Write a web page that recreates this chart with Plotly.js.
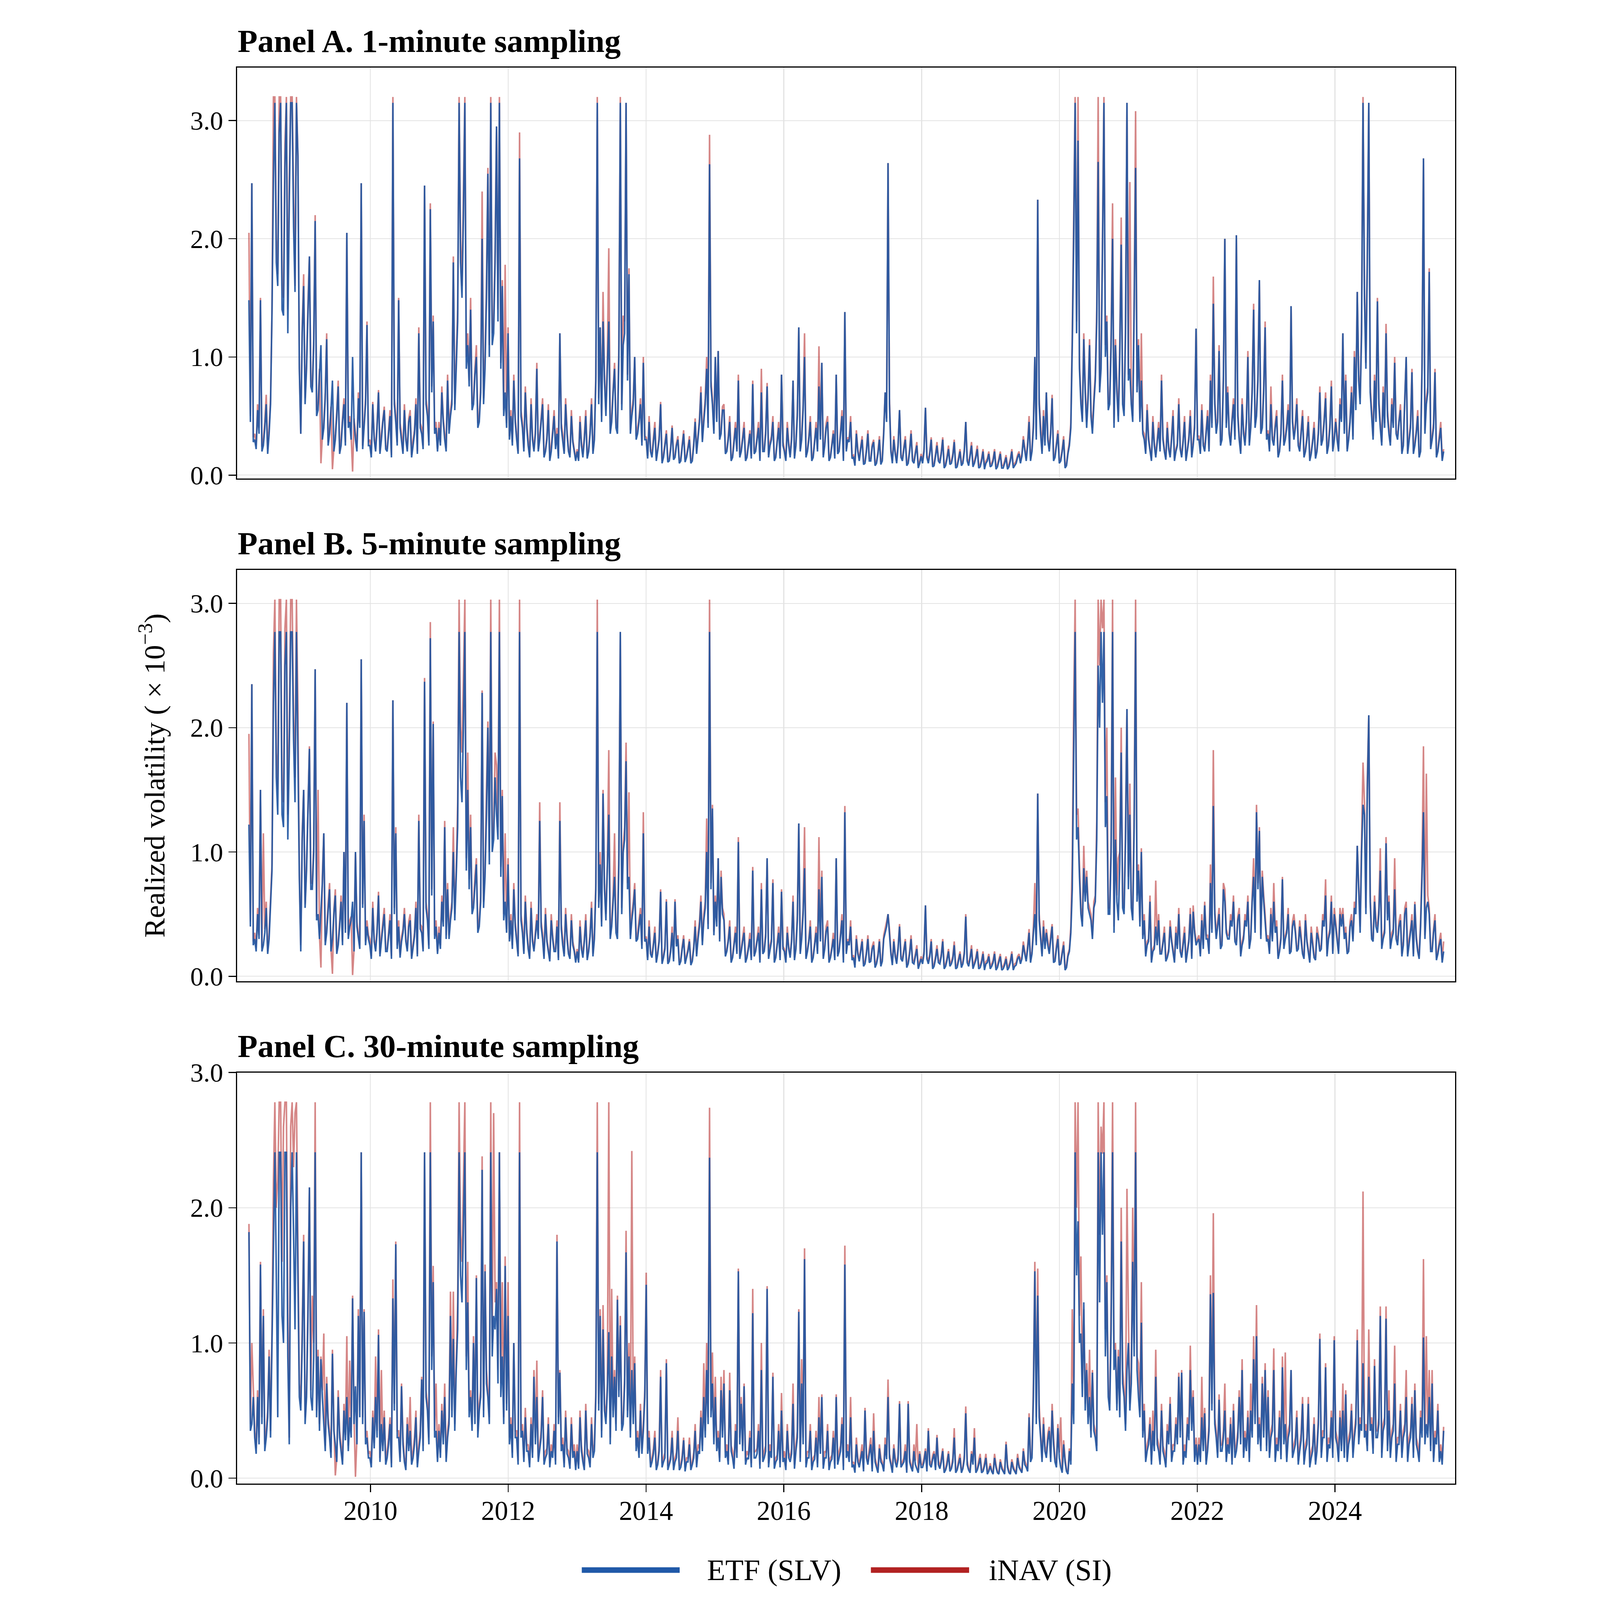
<!DOCTYPE html>
<html>
<head>
<meta charset="utf-8">
<script src="https://cdn.plot.ly/plotly-3.0.1.min.js"></script>
<style>
  html, body { margin: 0; background: #fff; overflow: hidden; }
  #chart { width: 4200px; height: 4920px; transform-origin: 0 0; }
</style>
</head>
<body>
<div id="chart"></div>
<script>
// Realized volatility of SLV vs its iNAV.
// Values are in hundredths of the axis unit (x 10^-5), about one point a week,
// first point 2008-03-28; one row per calendar year.

var start_date = '2008-03-28';
var step_ms = 7.63 * 86400000;

// Panel A, 1-minute sampling
var etf_1min = [
  148,45,247,28,30,22,55,35,148,20,25,40,60,18,35,60,137,250,315,180,160,290,315,140,135,260,315,120,230,315,315,210,155,315,270,90,
  35,120,160,60,90,140,185,75,70,110,215,50,55,85,110,30,40,65,115,25,35,55,80,20,30,50,75,18,25,45,60,25,205,40,45,30,100,45,30,20,65,40,247,22,40,60,127,25,
  25,15,60,30,20,40,70,18,30,45,55,22,20,35,50,15,315,60,45,25,148,40,30,18,55,30,20,45,50,15,25,35,60,18,120,40,35,22,245,60,50,25,225,70,130,35,40,20,
  40,25,70,45,30,20,80,35,50,60,180,55,90,130,315,180,150,220,315,90,110,75,140,55,60,85,100,40,45,70,200,60,90,150,255,100,315,110,120,180,295,130,315,90,160,50,70,40,
  120,30,50,25,80,45,30,18,268,50,40,20,70,40,25,15,60,30,20,35,90,20,30,45,60,15,20,30,55,12,20,35,50,22,35,14,120,40,30,18,60,35,20,15,50,28,20,12,
  20,12,45,25,15,30,50,14,20,35,60,18,30,80,315,60,125,45,130,80,50,95,130,35,45,70,90,40,35,100,315,55,110,120,315,80,170,35,50,60,100,30,35,45,60,25,95,30,
  30,14,45,20,15,28,40,12,20,30,60,10,15,25,35,11,12,22,40,13,15,25,30,10,12,24,35,11,15,22,30,10,12,25,45,18,30,45,70,28,45,60,90,40,263,75,60,35,
  100,45,105,30,35,55,55,18,20,30,45,12,15,28,40,20,80,15,20,30,40,12,15,25,35,14,77,18,20,30,40,12,70,20,20,35,75,15,25,30,45,12,15,28,40,14,85,25,
  20,12,40,25,15,30,80,14,25,50,125,20,30,55,100,15,20,30,45,12,15,28,40,20,75,30,95,15,25,40,45,12,15,25,35,14,85,18,20,35,50,12,138,20,30,28,45,14,
  15,8,35,20,12,22,30,9,10,20,35,12,12,24,28,8,10,18,30,9,12,35,70,45,264,60,20,10,30,18,10,25,55,15,12,22,30,8,10,20,35,12,10,18,25,6,10,16,
  10,20,57,15,10,18,30,7,8,16,25,12,10,18,30,6,8,14,22,9,10,16,28,6,7,13,20,8,10,20,45,12,8,16,25,7,10,15,22,6,7,12,20,5,10,12,18,7,
  8,12,20,5,7,12,18,6,6,10,15,5,7,12,20,6,8,10,15,18,10,16,30,20,12,25,45,12,20,40,100,30,233,60,35,18,50,25,70,30,20,35,65,12,15,25,35,10,
  12,20,30,6,8,18,25,40,110,200,315,120,283,90,60,45,115,70,40,65,110,50,35,60,80,130,265,70,90,190,315,100,130,55,60,110,200,40,110,70,45,100,195,60,50,120,315,80,
  90,60,45,140,260,70,110,45,80,35,30,18,55,30,20,12,45,25,15,28,40,20,80,30,20,13,40,22,15,30,50,12,20,25,60,22,15,28,45,12,20,30,50,15,25,40,124,30,
  30,18,55,25,20,35,50,20,80,40,145,60,35,45,105,25,30,80,200,40,70,35,25,45,60,30,203,50,30,18,60,35,25,45,100,25,40,70,140,40,50,80,165,35,40,70,125,30,
  35,20,60,30,25,40,50,15,20,35,80,25,30,40,55,20,143,45,30,40,60,25,20,35,50,15,20,30,45,12,18,28,40,14,20,35,70,25,30,45,65,18,25,40,75,20,30,45,
  30,20,60,45,120,35,80,20,30,45,70,30,100,55,155,80,60,120,315,150,90,180,315,70,50,30,80,45,147,60,40,25,70,40,120,50,35,25,60,40,95,35,30,45,55,18,25,60,
  100,18,30,40,87,18,25,35,50,15,20,90,268,35,60,70,172,22,30,40,87,15,20,30,40,12,20
];
var inav_1min = [
  205,50,247,32,35,25,60,40,150,24,30,45,68,22,40,65,140,320,320,200,170,320,320,160,150,280,320,140,250,320,320,230,160,320,270,95,
  35,125,170,65,95,145,185,80,75,115,220,55,60,90,10,33,45,70,120,28,40,58,5,23,35,54,80,20,30,48,65,28,205,44,50,33,3,48,35,23,70,44,247,25,45,65,130,28,
  30,18,62,33,22,44,72,20,35,48,58,25,22,38,55,17,320,65,50,28,150,44,35,20,60,33,22,48,55,17,30,38,65,20,125,44,40,25,245,65,55,28,230,75,135,38,45,22,
  45,28,75,48,35,23,85,38,55,65,185,60,100,140,320,200,160,240,320,100,120,80,150,60,65,90,110,44,50,75,240,65,100,160,260,110,320,120,130,190,295,140,320,95,165,55,178,44,
  125,33,55,28,85,48,35,20,290,55,45,23,75,44,30,17,65,33,22,38,95,22,35,48,65,17,22,33,60,14,25,38,55,25,40,16,120,44,35,20,65,38,22,17,55,30,22,14,
  22,14,50,28,18,33,55,16,22,38,65,20,35,85,320,65,125,50,155,85,55,100,192,38,50,75,95,44,40,110,320,60,135,130,315,85,175,38,55,65,100,33,40,48,65,28,100,33,
  32,16,50,22,18,30,45,14,22,33,62,12,18,27,38,13,14,24,42,15,17,27,33,12,14,26,38,13,17,24,33,12,14,27,48,20,35,48,75,30,50,65,100,44,288,80,65,38,
  100,48,105,33,38,58,60,20,22,33,50,14,17,30,45,22,85,17,22,33,45,14,17,27,38,16,80,20,22,33,45,14,90,22,22,38,78,17,28,33,50,14,17,30,45,16,85,28,
  22,14,45,28,17,33,80,16,28,55,125,22,35,60,120,17,22,33,50,14,17,30,45,22,109,33,95,17,28,44,50,14,17,27,38,16,85,20,22,38,55,14,138,22,32,30,50,16,
  17,10,38,22,14,24,33,11,12,22,38,14,14,26,30,10,12,20,33,11,14,38,70,48,264,65,22,12,33,20,12,27,55,17,14,24,33,10,12,22,38,14,12,20,28,8,12,18,
  12,22,57,17,12,20,32,9,10,18,28,14,12,20,32,8,10,16,25,11,12,18,30,8,9,15,22,10,12,22,45,14,10,18,28,9,12,17,25,8,9,14,22,7,12,14,20,9,
  10,14,22,7,9,14,20,8,8,12,17,7,9,14,22,8,10,12,17,20,12,18,33,22,14,28,50,14,22,44,100,33,233,65,40,20,55,28,70,33,22,38,68,14,17,28,38,12,
  14,22,33,8,10,20,28,44,120,220,320,130,320,95,65,48,120,75,45,70,115,55,40,65,85,140,320,75,100,200,320,110,135,60,65,120,230,44,115,75,50,110,218,65,55,130,315,85,
  248,65,50,150,308,75,115,48,120,38,35,20,60,33,22,14,50,28,17,30,45,22,85,33,22,15,45,24,17,33,55,14,22,27,65,24,17,30,50,14,22,33,55,17,28,44,124,33,
  33,20,60,28,22,38,55,22,85,44,168,65,40,48,110,28,33,85,200,44,75,38,28,48,65,33,203,55,33,20,65,38,28,48,105,28,45,75,145,44,55,85,165,38,45,75,130,33,
  38,22,75,33,28,44,55,17,22,38,85,28,33,44,60,22,143,48,33,44,65,28,22,38,55,17,22,33,50,14,20,30,45,16,22,38,75,28,33,48,70,20,28,44,80,22,33,48,
  33,22,65,48,120,38,85,22,33,48,75,33,105,60,155,85,65,130,320,160,95,190,315,75,55,33,85,48,150,65,45,28,75,44,128,55,40,28,65,44,100,38,33,48,60,20,28,65,
  100,20,33,44,90,20,28,38,55,17,22,95,268,38,65,75,175,24,33,44,90,17,22,33,45,14,22
];

// Panel B, 5-minute sampling
var etf_5min = [
  122,40,235,25,30,20,50,30,150,20,25,35,55,18,30,55,85,220,277,160,130,277,277,130,120,250,277,110,180,277,277,190,140,277,190,80,
  20,110,150,55,85,130,183,70,70,100,247,45,50,30,55,75,115,25,35,55,70,20,30,50,65,18,25,40,60,25,100,35,220,30,40,45,60,20,100,40,30,22,255,55,125,25,40,30,
  25,14,55,28,20,35,65,16,28,40,50,20,20,32,45,14,222,50,115,22,40,15,28,35,50,28,20,40,45,14,22,32,55,16,125,38,35,20,237,55,45,22,272,65,203,30,40,18,
  35,22,60,40,120,30,70,30,45,55,100,45,80,120,277,160,140,200,277,85,150,70,120,50,55,75,90,35,40,60,228,55,80,130,200,90,277,100,110,160,130,110,277,80,145,45,60,35,
  90,28,45,22,70,40,28,16,277,45,35,18,60,35,22,14,55,28,20,32,45,30,125,40,30,14,50,28,20,12,45,30,20,20,40,13,125,38,25,16,50,30,18,14,45,25,20,11,
  20,11,40,22,15,28,45,13,20,32,55,16,30,70,277,55,90,40,147,70,45,85,130,30,40,60,80,35,30,90,277,50,100,110,173,70,80,30,45,55,70,28,30,40,50,22,115,28,
  30,13,40,18,15,25,35,11,18,28,68,10,15,22,60,10,12,20,35,12,60,24,30,9,12,22,30,10,15,20,28,9,12,22,40,16,30,40,60,25,45,55,100,38,277,70,135,33,
  60,40,95,28,80,50,45,16,20,28,40,11,15,25,35,18,108,14,20,28,35,11,15,22,30,13,85,16,20,28,35,11,70,18,20,32,95,14,22,28,75,11,15,25,35,13,68,22,
  20,11,35,22,15,28,60,13,22,45,123,18,30,50,87,14,20,28,40,11,15,25,35,18,70,28,80,14,22,36,40,11,15,22,30,13,95,16,20,32,45,11,132,18,28,25,40,13,
  15,7,30,18,12,20,28,8,10,18,30,11,12,22,25,7,10,16,28,8,12,30,35,40,50,35,18,9,28,16,10,22,40,14,12,20,28,7,10,18,30,11,10,16,22,6,10,14,
  10,18,57,14,10,16,28,6,8,14,22,11,10,16,28,6,8,13,20,8,10,14,25,6,7,12,18,7,10,18,48,11,8,14,22,6,10,13,20,6,7,11,18,5,10,11,16,6,
  8,11,18,5,7,11,16,5,6,9,14,5,7,11,18,5,8,9,14,16,10,14,25,18,12,22,35,11,18,35,50,25,147,45,30,16,40,22,35,25,18,30,40,11,12,22,30,9,
  10,18,25,5,7,16,20,35,70,180,277,110,120,80,50,40,87,60,80,55,50,45,30,55,60,110,250,200,277,220,277,120,145,50,50,100,277,35,110,60,45,90,180,55,50,110,215,70,
  130,55,45,120,277,60,85,40,100,30,45,16,25,28,60,11,20,22,40,25,45,18,18,26,35,12,15,20,40,28,20,11,35,22,50,20,15,25,35,11,20,28,50,14,52,35,25,28,
  30,16,45,22,57,30,30,18,75,35,137,50,30,40,50,22,25,70,60,35,30,30,45,40,60,28,25,45,50,16,25,30,45,40,60,22,30,60,80,35,132,70,117,30,80,60,45,28,
  30,18,50,28,60,35,40,14,20,30,78,22,30,35,50,18,20,40,45,35,20,22,40,30,18,14,45,28,20,11,35,25,15,13,35,30,20,22,45,40,65,16,30,35,60,18,50,40,
  30,18,50,40,50,30,35,18,20,40,45,28,55,50,105,70,35,100,138,130,50,150,210,60,30,28,60,40,35,50,85,22,30,35,107,45,60,22,30,35,70,30,25,40,45,16,25,50,
  55,16,25,35,45,16,58,30,20,14,40,80,132,30,55,60,50,20,20,35,45,13,18,25,30,11,20
];
var inav_5min = [
  195,44,235,28,35,23,55,33,150,23,115,38,60,20,35,60,90,260,303,180,150,303,303,150,140,280,303,130,200,303,303,210,160,303,218,85,
  25,115,150,58,90,135,185,75,75,105,247,48,150,33,7,80,115,28,40,58,75,22,2,53,70,20,28,44,65,28,100,38,220,33,45,48,1,22,100,44,35,25,255,58,130,28,45,33,
  30,16,60,30,22,38,68,18,32,44,55,22,22,35,50,16,222,55,120,25,45,17,32,38,55,30,22,44,50,16,25,35,60,18,130,42,40,22,240,60,50,25,285,70,205,33,45,20,
  40,25,65,44,125,33,75,33,50,60,120,50,85,140,303,200,180,240,303,95,180,78,130,55,60,80,95,38,45,65,230,60,85,150,205,100,303,110,120,180,170,120,303,88,150,50,115,38,
  95,30,50,25,75,44,32,18,303,50,40,20,65,38,25,16,60,30,22,35,50,33,140,44,35,16,55,30,22,14,50,33,22,22,45,15,140,42,30,18,55,33,20,16,50,28,22,13,
  22,13,45,25,18,30,50,15,22,35,60,18,35,75,303,60,100,44,150,75,50,90,182,33,45,65,115,38,35,100,277,55,105,120,188,75,148,33,50,60,75,30,35,44,55,25,132,30,
  32,15,45,20,17,27,40,13,20,30,70,12,17,24,62,12,14,22,40,14,62,26,33,11,14,24,33,12,17,22,30,11,14,24,45,18,35,44,65,28,50,60,127,42,303,75,138,36,
  65,44,95,30,85,55,50,18,22,30,45,13,17,27,40,20,112,16,22,30,40,13,17,24,35,15,88,18,22,30,40,13,75,20,22,35,95,16,25,30,78,13,17,27,40,15,70,24,
  22,13,40,24,17,30,65,15,25,50,123,20,35,55,120,16,22,30,45,13,17,27,40,20,112,30,85,16,25,40,45,13,17,24,35,15,95,18,22,35,50,13,137,20,30,27,45,15,
  17,9,33,20,14,22,30,10,12,20,33,13,14,24,28,9,12,18,30,10,14,33,38,44,50,38,20,11,30,18,12,24,42,16,14,22,30,9,12,20,33,13,12,18,25,8,12,16,
  12,20,57,16,12,18,30,8,10,16,25,13,12,18,30,8,10,15,22,10,12,16,28,8,9,14,20,9,12,20,50,13,10,16,25,8,12,15,22,8,9,13,20,7,12,13,18,8,
  10,13,20,7,9,13,18,7,8,11,16,7,9,13,20,7,10,11,16,18,12,16,28,20,14,25,38,13,20,40,75,28,147,50,33,18,45,25,38,28,20,33,42,13,14,25,33,11,
  12,20,28,7,9,18,22,40,95,220,303,130,135,90,55,44,105,65,85,60,55,50,33,60,65,125,303,250,303,280,303,140,200,55,55,110,303,40,160,65,95,100,200,60,55,120,215,80,
  155,60,50,135,303,65,90,44,103,33,50,18,28,30,65,13,22,25,77,28,50,20,20,28,40,14,17,22,45,30,22,13,40,25,55,22,17,28,40,13,22,30,55,16,57,38,28,30,
  33,18,50,25,60,33,33,20,90,38,182,55,33,44,55,25,28,75,70,38,33,33,50,44,65,30,28,48,55,18,28,33,50,44,65,25,33,65,95,38,138,75,120,33,85,65,50,30,
  33,20,55,30,75,38,45,16,22,33,80,25,33,38,55,20,22,44,50,38,22,25,45,33,20,16,50,30,22,13,40,28,17,15,40,33,22,25,50,44,78,18,33,38,65,20,55,44,
  33,20,55,44,55,33,40,20,22,44,50,30,60,55,105,75,40,110,172,140,55,160,210,65,33,30,65,44,40,55,103,25,33,38,112,50,65,25,35,38,95,33,28,44,50,18,28,55,
  60,18,30,38,50,18,60,33,22,16,45,90,185,33,163,65,55,22,22,38,50,15,20,28,35,13,28
];

// Panel C, 30-minute sampling
var etf_30min = [
  182,35,40,60,30,18,60,25,158,40,120,20,30,45,90,30,100,180,241,150,45,241,241,120,100,241,241,90,25,200,241,180,110,241,145,60,
  50,100,175,40,60,120,215,60,50,90,241,45,90,35,88,60,40,20,70,40,30,15,92,35,25,12,60,30,20,10,50,28,60,20,45,30,133,40,68,25,120,45,241,40,123,25,30,15,
  15,8,45,22,60,30,106,12,40,20,45,10,15,25,40,8,133,50,173,30,30,12,68,25,12,6,40,20,35,10,15,25,45,8,20,30,73,20,241,60,50,25,241,80,145,30,35,12,
  35,15,50,25,60,12,30,40,120,45,103,35,80,110,241,150,130,180,241,80,130,45,60,35,100,40,148,30,50,60,228,45,153,70,60,40,241,90,120,110,140,70,241,60,90,40,157,50,
  120,25,40,15,100,30,30,10,241,30,35,12,45,20,20,8,40,15,75,25,60,12,20,30,60,10,15,18,40,8,20,15,35,10,175,40,78,20,25,8,45,18,15,7,40,15,20,6,
  20,7,45,20,12,6,50,18,15,8,40,15,20,60,241,50,120,30,110,50,40,65,108,25,90,45,75,35,132,60,113,35,40,70,167,45,90,30,80,40,85,20,30,15,50,18,35,60,
  143,18,30,8,12,18,30,6,10,20,75,8,12,15,85,6,10,14,30,6,12,15,35,6,8,14,28,5,12,12,25,6,10,15,35,8,20,18,45,20,60,30,80,40,237,45,70,25,
  60,20,30,12,65,30,70,15,20,10,65,20,15,7,35,15,153,25,55,20,68,10,15,14,30,8,122,15,15,18,35,7,80,12,15,20,140,8,20,15,75,7,12,14,35,8,50,12,
  15,6,35,15,12,18,55,7,20,30,123,12,70,25,162,8,15,15,35,6,12,14,30,8,45,18,60,7,15,15,35,6,12,14,30,7,60,10,15,20,40,6,158,15,20,12,45,8,
  10,4,25,12,8,14,20,5,50,15,10,18,25,5,35,12,8,4,22,12,10,5,25,14,60,15,10,4,22,12,8,14,55,8,10,12,20,4,55,12,8,5,20,10,7,4,18,8,
  8,12,20,5,35,10,8,14,18,6,30,10,7,12,20,4,6,10,18,5,7,12,30,4,6,10,15,4,7,14,48,10,6,4,18,10,30,4,6,10,15,4,5,9,15,3,5,9,
  5,3,15,8,4,3,12,7,5,3,25,8,4,3,12,7,5,3,15,8,6,4,20,10,8,5,45,12,15,60,153,40,135,45,30,12,40,20,15,28,35,12,50,25,12,8,37,15,
  8,4,25,12,5,3,20,10,70,40,241,150,190,100,107,60,130,50,80,40,60,30,78,35,30,20,241,130,241,180,241,90,145,60,50,110,241,80,95,50,90,45,175,70,60,35,80,100,
  50,70,160,90,241,80,60,45,115,30,50,12,20,25,40,10,35,20,75,25,20,10,50,20,15,8,35,25,55,12,20,20,40,25,75,30,78,10,20,15,40,28,80,35,60,12,25,10,
  25,12,45,20,48,10,20,35,136,50,137,40,30,15,58,20,20,30,50,12,25,18,40,10,50,15,20,30,60,25,80,15,30,20,45,12,50,30,88,40,105,25,40,20,70,30,80,20,
  60,15,30,35,80,12,25,20,45,14,82,25,40,12,30,35,80,15,20,25,45,10,20,28,55,10,20,25,55,8,15,20,40,10,20,40,103,15,30,30,82,12,25,22,45,15,102,30,
  25,12,45,20,50,15,62,12,25,30,50,15,30,40,102,25,40,35,85,30,35,20,75,35,40,18,83,30,30,40,120,15,35,40,118,20,50,15,30,35,70,12,25,25,50,15,30,35,
  60,12,25,30,55,15,65,25,20,12,45,30,104,25,40,30,60,20,70,12,30,25,50,12,20,10,35
];
var inav_30min = [
  188,40,100,65,35,22,65,30,160,45,125,25,35,50,95,35,110,220,278,200,220,278,278,160,260,278,278,120,30,260,278,230,270,278,160,70,
  55,110,180,45,65,130,215,65,135,100,278,50,95,40,90,65,107,24,75,45,35,19,95,40,2,15,65,35,25,13,55,32,105,24,87,35,135,45,1,30,125,50,241,45,125,30,35,18,
  20,11,50,26,90,35,110,15,80,24,50,13,20,30,45,11,147,55,175,35,35,15,70,30,15,9,45,24,60,13,20,30,50,11,25,35,75,24,241,65,55,30,278,90,157,35,70,15,
  40,19,55,30,70,15,35,45,138,50,138,40,85,130,278,180,160,220,278,90,160,50,65,40,105,45,150,35,55,65,238,50,158,80,65,45,278,100,270,130,145,80,241,70,145,45,164,55,
  145,30,45,19,100,35,35,13,278,35,40,15,52,24,25,11,45,19,80,30,87,15,25,35,65,13,20,22,45,11,25,19,40,13,180,45,80,24,30,11,50,22,20,10,45,19,25,9,
  25,10,50,24,15,9,55,22,20,11,45,19,25,65,278,55,125,35,128,55,45,70,278,30,140,50,80,40,135,65,120,40,45,75,183,50,100,35,242,45,90,24,35,19,55,22,40,65,
  152,22,35,11,15,22,35,9,12,24,80,11,15,19,88,9,12,17,35,9,15,19,45,9,10,17,30,8,15,15,30,9,12,19,40,11,25,22,50,24,85,35,100,45,274,50,93,30,
  75,24,35,15,75,35,80,19,25,13,78,24,20,10,40,19,155,30,60,24,70,13,20,17,35,11,140,19,20,22,40,10,100,15,20,24,142,11,25,19,78,10,15,17,40,11,63,15,
  20,9,40,19,15,22,70,10,25,35,125,15,88,30,170,11,20,19,40,9,15,17,35,11,60,22,62,10,20,19,40,9,15,17,35,10,62,13,20,24,45,9,172,19,25,15,60,11,
  12,6,30,15,10,17,25,7,52,18,12,22,30,7,48,15,10,6,25,15,12,7,30,17,73,18,12,6,25,15,10,17,57,10,12,15,25,6,57,15,10,7,25,13,40,6,20,10,
  10,15,22,7,37,13,10,17,20,8,32,13,8,15,22,6,7,13,20,7,8,15,37,6,7,13,18,6,8,17,53,13,7,6,20,13,37,6,7,13,18,6,6,11,18,5,6,11,
  6,4,18,10,5,4,14,9,6,4,27,10,5,4,14,9,6,4,18,10,7,5,22,13,10,7,48,15,18,70,160,45,155,55,33,15,45,24,18,33,38,15,55,30,15,11,40,19,
  45,6,28,15,6,5,22,13,125,50,278,200,278,120,164,70,125,55,85,45,95,35,80,40,35,24,278,180,260,240,278,110,150,65,55,130,278,95,100,55,95,50,200,80,65,40,214,120,
  55,80,200,100,278,90,85,50,145,35,55,15,25,30,45,13,50,24,95,30,25,13,55,24,20,11,40,30,60,15,25,24,45,30,78,35,80,13,25,19,45,33,98,40,65,15,30,13,
  30,15,75,24,52,13,25,40,150,55,196,45,35,19,62,24,25,35,70,15,30,22,45,13,55,19,25,35,65,30,88,19,35,24,50,15,70,35,105,45,128,30,45,24,75,35,85,24,
  65,19,35,40,96,15,30,24,50,17,90,30,93,15,35,40,80,19,25,30,50,13,25,33,60,13,25,30,60,11,20,24,45,13,25,45,107,19,35,35,85,15,30,26,50,19,105,35,
  30,15,50,24,70,19,65,15,30,35,55,19,35,45,110,30,45,40,212,35,40,24,110,40,45,22,88,35,35,45,127,19,40,45,127,24,65,19,35,40,98,15,30,30,55,19,35,40,
  80,15,30,35,60,19,70,30,25,15,50,35,162,30,105,35,80,24,80,15,35,30,55,15,25,13,38
];

var panel_titles = ['Panel A. 1-minute sampling', 'Panel B. 5-minute sampling', 'Panel C. 30-minute sampling'];
var series_names = ['ETF (SLV)', 'iNAV (SI)'];
var y_ticks = [0, 1, 2, 3];

var etf_line = 'rgba(33,86,162,0.92)';
var inav_line = 'rgba(178,34,34,0.55)';
var etf_key = '#2059A8';
var inav_key = '#B22222';
var serif = '"Liberation Serif", "Times New Roman", Times, serif';

var W = 4200, H = 4920;
var x_dom = [369 / W, 4114 / W];
var x_range = ['2008-01-25', '2025-09-28'];
// panel boxes in pixels from the top: [top, bottom]
var boxes = [[207.6, 1471], [1752.6, 3017], [3298, 4562]];
var y_ranges = [[-0.0275, 3.449], [-0.039, 3.269], [-0.04, 3.0]];

var etf_sets = [etf_1min, etf_5min, etf_30min];
var inav_sets = [inav_1min, inav_5min, inav_30min];

function to_units(arr) {
  return arr.map(function (v) { return v / 100; });
}

var traces = [];
for (let i = 0; i < 3; i++) {
  var sfx = i === 0 ? '' : (i + 1).toString();
  traces.push({
    y: to_units(inav_sets[i]), x0: start_date, dx: step_ms,
    xaxis: 'x' + sfx, yaxis: 'y' + sfx,
    type: 'scatter', mode: 'lines', name: series_names[1],
    line: {color: inav_line, width: 4.8},
    showlegend: false, hoverinfo: 'skip',
  });
  traces.push({
    y: to_units(etf_sets[i]), x0: start_date, dx: step_ms,
    xaxis: 'x' + sfx, yaxis: 'y' + sfx,
    type: 'scatter', mode: 'lines', name: series_names[0],
    line: {color: etf_line, width: 4.8},
    showlegend: false, hoverinfo: 'skip',
  });
}

var layout = {
  width: W, height: H,
  margin: {t: 0, r: 0, l: 0, b: 0},
  paper_bgcolor: '#fff', plot_bgcolor: '#fff',
  font: {family: serif, color: '#000'},
  showlegend: false,
  annotations: [],
  shapes: [],
};

for (let i = 0; i < 3; i++) {
  var sfx = i === 0 ? '' : (i + 1).toString();
  var last = i === 2;
  layout['xaxis' + sfx] = {
    type: 'date', anchor: 'y' + sfx, domain: x_dom, range: x_range,
    tick0: '2010-01-01', dtick: 'M24', tickformat: '%Y',
    showticklabels: last, ticks: last ? 'outside' : '',
    ticklen: 23, tickwidth: 3, tickcolor: '#000', ticklabelstandoff: -14,
    tickfont: {size: 83, family: serif, color: '#000'},
    showgrid: true, gridcolor: '#E3E3E3', gridwidth: 2.6,
    showline: true, mirror: true, linecolor: '#000', linewidth: 3.6,
    zeroline: false, fixedrange: true,
  };
  layout['yaxis' + sfx] = {
    anchor: 'x' + sfx,
    domain: [1 - boxes[i][1] / H, 1 - boxes[i][0] / H],
    range: y_ranges[i],
    tickmode: 'array', tickvals: y_ticks, tickformat: '.1f',
    ticks: 'outside', ticklen: 23, tickwidth: 3, tickcolor: '#000',
    tickfont: {size: 81, family: serif, color: '#000'},
    showgrid: true, gridcolor: '#E3E3E3', gridwidth: 2.6,
    showline: true, mirror: true, linecolor: '#000', linewidth: 3.6,
    zeroline: false, fixedrange: true,
  };
  layout.annotations.push({
    xref: 'paper', yref: 'paper',
    x: x_dom[0], y: 1 - (boxes[i][0] - 24) / H,
    xanchor: 'left', yanchor: 'bottom',
    text: '<b>' + panel_titles[i] + '</b>',
    showarrow: false,
    font: {size: 100, family: serif, color: '#000'},
  });
}

layout.yaxis2.title = {
  text: 'Realized volatility ( \u00d7 10<sup>\u22123</sup>)',
  font: {size: 90, family: serif, color: '#000'},
  standoff: 50,
};

// legend below the bottom panel
var key_y = 1 - 4828 / H;
var keys = [
  {x0: 1429, x1: 1730, tx: 1812, color: etf_key, label: series_names[0]},
  {x0: 2318, x1: 2620, tx: 2679, color: inav_key, label: series_names[1]},
];
keys.forEach(function (k) {
  layout.shapes.push({
    type: 'line', xref: 'paper', yref: 'paper',
    x0: k.x0 / W, x1: k.x1 / W, y0: key_y, y1: key_y,
    line: {color: k.color, width: 17},
  });
  layout.annotations.push({
    xref: 'paper', yref: 'paper', x: k.tx / W, y: key_y,
    xanchor: 'left', yanchor: 'middle',
    text: k.label, showarrow: false,
    font: {size: 92, family: serif, color: '#000'},
  });
});

// the window can be smaller than the figure: shrink the whole figure to fit
var fit = Math.min(window.innerWidth / W, window.innerHeight / H, 1);
var chart_div = document.getElementById('chart');
var shift_x = Math.max(0, (window.innerWidth - W * fit) / 2);
chart_div.style.transform = 'translate(' + shift_x + 'px, 0px) scale(' + fit + ')';

var config = {displayModeBar: false, staticPlot: true};

Plotly.newPlot('chart', traces, layout, config);
</script>
</body>
</html>
